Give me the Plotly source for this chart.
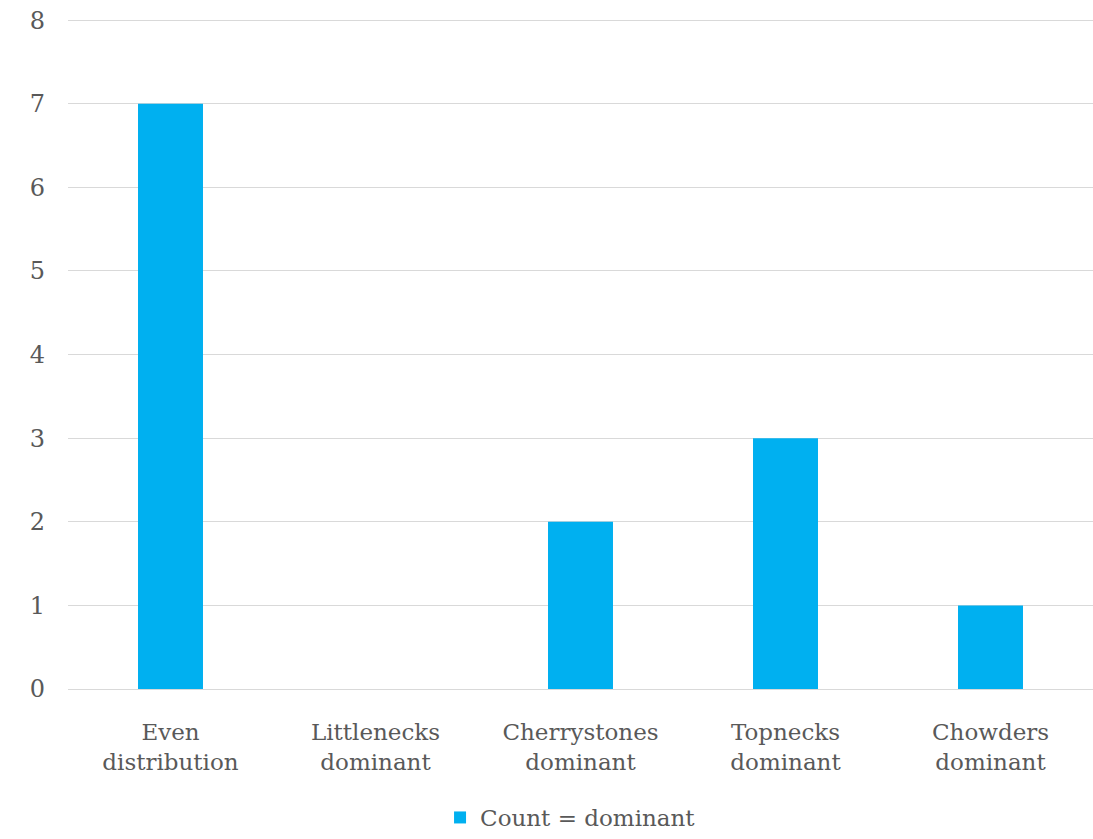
import plotly.graph_objects as go

categories = ["Even<br>distribution", "Littlenecks<br>dominant", "Cherrystones<br>dominant",
              "Topnecks<br>dominant", "Chowders<br>dominant"]
counts = [7, 0, 2, 3, 1]
series_name = "Count = dominant"
y_ticks = [0, 1, 2, 3, 4, 5, 6, 7, 8]

FONT = "DejaVu Serif"
GRAY = "#595959"

fig = go.Figure()
fig.add_trace(go.Bar(x=categories, y=counts, name=series_name, marker_color="#00B0F0",
                     marker_line_width=0))

fig.update_layout(
    width=1093, height=839,
    margin=dict(l=68, r=0, t=16, b=150),
    paper_bgcolor="white", plot_bgcolor="white",
    bargap=0.683,
    font=dict(family=FONT, size=22, color=GRAY),
    showlegend=True,
    legend=dict(orientation="h", xref="container", yref="container",
                x=0.522, xanchor="center", y=0.0, yanchor="bottom",
                font=dict(family=FONT, size=23, color=GRAY)),
)
fig.update_yaxes(range=[0, 8.05], tickvals=y_ticks, showgrid=True, gridcolor="#D9D9D9",
                 gridwidth=1.3, zeroline=False, showline=False, ticks="",
                 ticklabelstandoff=22, tickfont=dict(family=FONT, size=24, color=GRAY))
fig.update_xaxes(showline=True, linecolor="#D9D9D9", linewidth=1.3, ticks="",
                 ticklabelstandoff=22, tickfont=dict(family=FONT, size=23, color=GRAY))

fig.write_html("out.html")
